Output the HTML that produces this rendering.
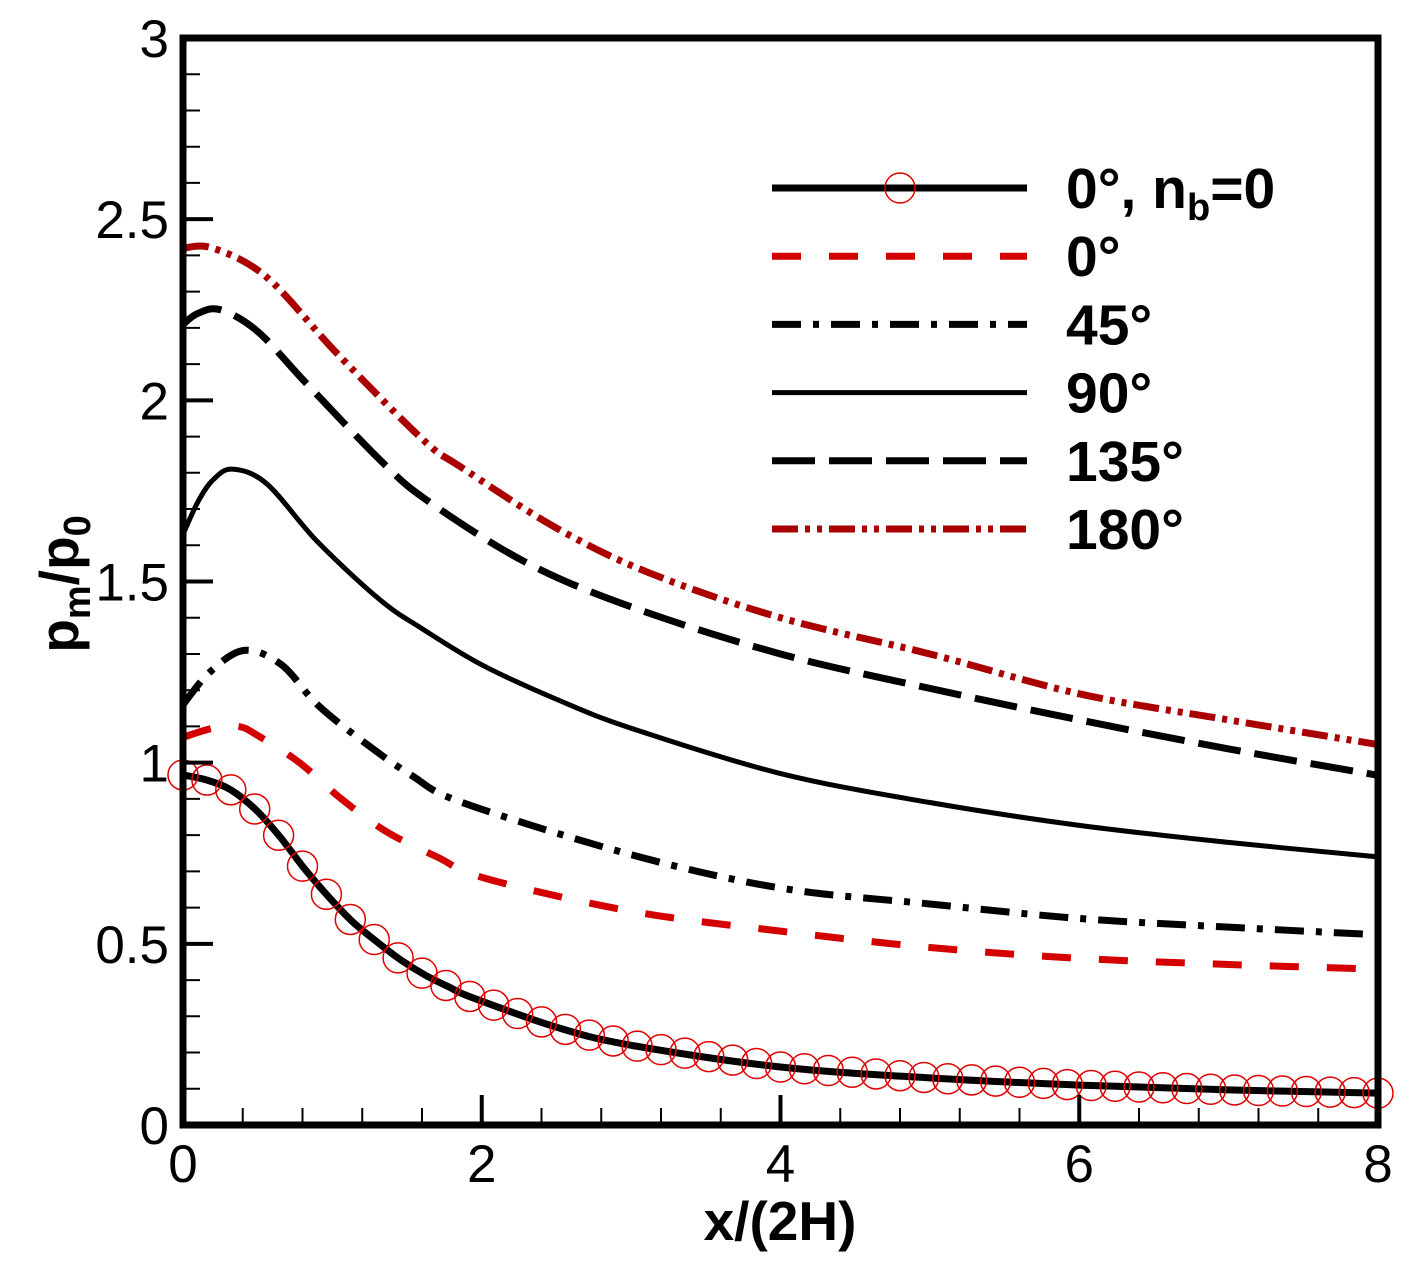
<!DOCTYPE html>
<html><head><meta charset="utf-8"><style>
body{margin:0;background:#fff}
svg{display:block}
text{font-family:"Liberation Sans",sans-serif}
</style></head><body>
<svg id="chart" width="1410" height="1275" viewBox="0 0 1410 1275" xmlns="http://www.w3.org/2000/svg">
<rect x="0" y="0" width="1410" height="1275" fill="#fff"/>
<g id="series"></g>
<g id="axes"></g>
<g id="legend"></g>
</svg>
<script>
const xTicks=[0,2,4,6,8];
const yTicks=[0,0.5,1,1.5,2,2.5,3];
const yTickLabels=["0","0.5","1","1.5","2","2.5","3"];
const xTickLabels=["0","2","4","6","8"];
const nb0X=[0,0.16,0.32,0.49,0.65,0.81,0.97,1.13,1.30,1.46,1.62,1.78,1.94,2.5,3,4,5,6,7,8];
const nb0Y=[0.966,0.952,0.925,0.869,0.795,0.709,0.632,0.563,0.505,0.455,0.414,0.381,0.351,0.27,0.22,0.16,0.13,0.11,0.097,0.088];
const d0X=[0,0.2,0.37,0.5,0.78,1.06,1.36,1.70,2.03,3,4,5,6,7,8];
const d0Y=[1.07,1.095,1.10,1.075,1.0,0.90,0.81,0.74,0.68,0.59,0.535,0.49,0.46,0.443,0.43];
const d45X=[0,0.18,0.41,0.66,0.9,1.22,1.53,1.87,3,4,5,6,7,8];
const d45Y=[1.16,1.25,1.31,1.27,1.16,1.054,0.965,0.89,0.746,0.654,0.61,0.57,0.546,0.525];
const d90X=[0,0.1,0.2,0.33,0.56,0.9,1.32,1.6,2.0,2.5,3,4,5,6,7,8];
const d90Y=[1.63,1.72,1.78,1.81,1.77,1.61,1.449,1.37,1.27,1.175,1.095,0.97,0.89,0.827,0.78,0.74];
const d135X=[0,0.1,0.25,0.5,0.83,1.32,1.63,2.29,3,4,5,6,7,8];
const d135Y=[2.21,2.24,2.25,2.19,2.045,1.835,1.725,1.554,1.43,1.30,1.205,1.118,1.038,0.965];
const d180X=[0,0.2,0.56,1.03,1.61,1.86,2.49,3.12,4,5,6,7,8];
const d180Y=[2.42,2.42,2.34,2.13,1.89,1.816,1.65,1.524,1.40,1.30,1.19,1.118,1.05];

const X0=183,X1=1378,Y0=1125,Y1=38;
const sx=u=>X0+(X1-X0)*u/8;
const sy=v=>Y0-(Y0-Y1)*v/3;
const NS="http://www.w3.org/2000/svg";
function mk(tag,attrs,parent){const e=document.createElementNS(NS,tag);for(const k in attrs)e.setAttribute(k,attrs[k]);parent.appendChild(e);return e;}
function pathD(xs,ys){
  const p=xs.map((x,i)=>[sx(x),sy(ys[i])]);
  let d="M"+p[0][0]+","+p[0][1];
  for(let i=0;i<p.length-1;i++){
    const a=p[Math.max(0,i-1)],b=p[i],c=p[i+1],e=p[Math.min(p.length-1,i+2)];
    const c1=[b[0]+(c[0]-a[0])/6,b[1]+(c[1]-a[1])/6];
    const c2=[c[0]-(e[0]-b[0])/6,c[1]-(e[1]-b[1])/6];
    d+=" C"+c1[0]+","+c1[1]+" "+c2[0]+","+c2[1]+" "+c[0]+","+c[1];
  }
  return d;
}
function interp(xs,ys,u){for(let i=0;i<xs.length-1;i++){if(u<=xs[i+1]){const t=(u-xs[i])/(xs[i+1]-xs[i]);return ys[i]+t*(ys[i+1]-ys[i]);}}return ys[ys.length-1];}
const series=document.getElementById('series');
const defs=[
 {n:'series-0deg-nb0',xs:nb0X,ys:nb0Y,c:'#000',w:7,da:null},
 {n:'series-0deg',xs:d0X,ys:d0Y,c:'#d40000',w:7,da:'29 28'},
 {n:'series-45deg',xs:d45X,ys:d45Y,c:'#000',w:7,da:'29 12 6 12'},
 {n:'series-90deg',xs:d90X,ys:d90Y,c:'#000',w:5,da:null},
 {n:'series-135deg',xs:d135X,ys:d135Y,c:'#000',w:7,da:'43 14'},
 {n:'series-180deg',xs:d180X,ys:d180Y,c:'#aa0000',w:7,da:'26 7 5 7 5 7'}
];
defs.forEach(s=>{
  const p=mk('path',{d:pathD(s.xs,s.ys),fill:'none',stroke:s.c,'stroke-width':s.w},series);
  if(s.da)p.setAttribute('stroke-dasharray',s.da);
  
  
});
for(let k=0;k<=50;k++){
  const u=k*0.16;
  const c=mk('circle',{cx:sx(u),cy:sy(interp(nb0X,nb0Y,u)),r:15,fill:'none',stroke:'#e00000','stroke-width':1.5},series);
  
  
}
const axes=document.getElementById('axes');
for(let v=0;v<=3.001;v+=0.1){
  const major=Math.abs(v*2-Math.round(v*2))<1e-6;
  const t=mk('line',{x1:X0,x2:X0+(major?30:17),y1:sy(v),y2:sy(v),stroke:'#000','stroke-width':major?4:2},axes);
  
  
}
for(let u=0;u<=8.001;u+=0.4){
  const major=Math.abs(u/2-Math.round(u/2))<1e-6;
  const t=mk('line',{x1:sx(u),x2:sx(u),y1:Y0,y2:Y0-(major?30:17),stroke:'#000','stroke-width':major?4:2},axes);
  
  
}
const fr=mk('rect',{x:X0,y:Y1,width:X1-X0,height:Y0-Y1,fill:'none',stroke:'#000','stroke-width':7},axes);


yTicks.forEach((v,i)=>{
  const t=mk('text',{x:X0-14,y:sy(v)+19,'text-anchor':'end','font-size':53},axes);
  t.textContent=yTickLabels[i];
  
  
});
xTicks.forEach((u,i)=>{
  const t=mk('text',{x:sx(u),y:1182,'text-anchor':'middle','font-size':53},axes);
  t.textContent=xTickLabels[i];
  
  
});
const xt=mk('text',{x:780,y:1240,'text-anchor':'middle','font-size':55,'font-weight':'bold'},axes);
xt.textContent='x/(2H)';


const yt=mk('text',{transform:'translate(78,584) rotate(-90)','text-anchor':'middle','font-size':55,'font-weight':'bold'},axes);
yt.innerHTML='p<tspan font-size="38" dy="12">m</tspan><tspan dy="-12">/p</tspan><tspan font-size="38" dy="12">0</tspan>';


const legend=document.getElementById('legend');
const labels=['0°, n<tspan font-size="38" dy="12">b</tspan><tspan dy="-12">=0</tspan>','0°','45°','90°','135°','180°'];
defs.forEach((s,i)=>{
  const y=188+i*68.2;
  const l=mk('line',{x1:772,x2:1027,y1:y,y2:y,stroke:s.c,'stroke-width':s.w},legend);
  if(s.da)l.setAttribute('stroke-dasharray',s.da);
  
  
  if(i===0){
    const c=mk('circle',{cx:900,cy:y,r:15,fill:'none',stroke:'#e00000','stroke-width':1.5},legend);
    
    
  }
  const t=mk('text',{x:1066,y:y+20,'font-size':57,'font-weight':'bold'},legend);
  t.innerHTML=labels[i];
  
  
});
</script>
</body></html>
